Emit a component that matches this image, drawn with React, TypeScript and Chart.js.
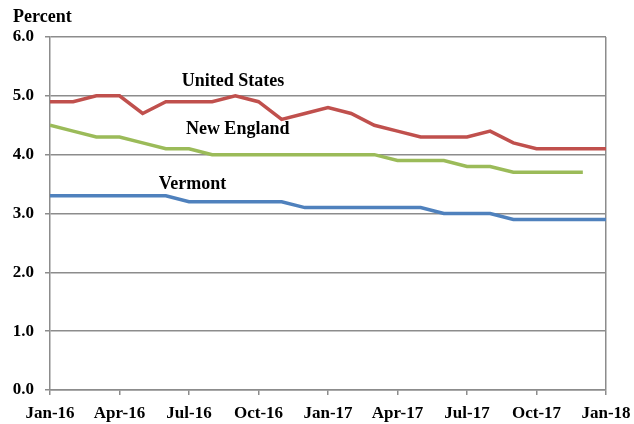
import React, { useEffect, useRef } from "react";
import { Chart, registerables } from "chart.js";

Chart.register(...registerables);

const months = [
  "Jan-16", "Feb-16", "Mar-16", "Apr-16", "May-16", "Jun-16", "Jul-16", "Aug-16", "Sep-16",
  "Oct-16", "Nov-16", "Dec-16", "Jan-17", "Feb-17", "Mar-17", "Apr-17", "May-17", "Jun-17",
  "Jul-17", "Aug-17", "Sep-17", "Oct-17", "Nov-17", "Dec-17", "Jan-18",
];
const tickLabels = ["Jan-16", "Apr-16", "Jul-16", "Oct-16", "Jan-17", "Apr-17", "Jul-17", "Oct-17", "Jan-18"];
const unitedStates = [4.9, 4.9, 5.0, 5.0, 4.7, 4.9, 4.9, 4.9, 5.0, 4.9, 4.6, 4.7, 4.8, 4.7, 4.5, 4.4, 4.3, 4.3, 4.3, 4.4, 4.2, 4.1, 4.1, 4.1, 4.1];
const newEngland = [4.5, 4.4, 4.3, 4.3, 4.2, 4.1, 4.1, 4.0, 4.0, 4.0, 4.0, 4.0, 4.0, 4.0, 4.0, 3.9, 3.9, 3.9, 3.8, 3.8, 3.7, 3.7, 3.7, 3.7, null];
const vermont = [3.3, 3.3, 3.3, 3.3, 3.3, 3.3, 3.2, 3.2, 3.2, 3.2, 3.2, 3.1, 3.1, 3.1, 3.1, 3.1, 3.1, 3.0, 3.0, 3.0, 2.9, 2.9, 2.9, 2.9, 2.9];
const seriesNames = ["United States", "New England", "Vermont"];

const FONT = "'Liberation Serif', 'Times New Roman', serif";
const GRID = "#8c8c8c";

const toPoints = (arr: (number | null)[]) => arr.map((v, i) => ({ x: i, y: v }));

const labelPlugin = {
  id: "seriesLabels",
  afterDatasetsDraw(chart: any) {
    const { ctx, scales } = chart;
    const anchors = [
      { x: 7.9, y: 5.24 },
      { x: 8.1, y: 4.43 },
      { x: 6.15, y: 3.49 },
    ];
    ctx.save();
    ctx.font = `bold 18px ${FONT}`;
    ctx.fillStyle = "#000";
    ctx.textAlign = "center";
    ctx.textBaseline = "middle";
    seriesNames.forEach((name, i) => {
      ctx.fillText(name, scales.x.getPixelForValue(anchors[i].x), scales.y.getPixelForValue(anchors[i].y));
    });
    ctx.textAlign = "left";
    ctx.fillText("Percent", 13, 17);
    ctx.restore();
  },
};

export default function App() {
  const ref = useRef<HTMLCanvasElement | null>(null);
  useEffect(() => {
    if (!ref.current) return;
    const chart = new Chart(ref.current, {
      type: "line",
      data: {
        labels: months,
        datasets: [
          { label: seriesNames[0], data: toPoints(unitedStates), borderColor: "#C0504D", borderWidth: 3.5, pointRadius: 0, tension: 0 },
          { label: seriesNames[1], data: toPoints(newEngland), borderColor: "#9BBB59", borderWidth: 3.5, pointRadius: 0, tension: 0 },
          { label: seriesNames[2], data: toPoints(vermont), borderColor: "#4F81BD", borderWidth: 3.5, pointRadius: 0, tension: 0 },
        ],
      },
      options: {
        animation: false,
        responsive: false,
        maintainAspectRatio: false,
        layout: { padding: { top: 37, right: 28, left: 0, bottom: 0 } },
        plugins: { legend: { display: false }, tooltip: { enabled: false }, title: { display: false } },
        scales: {
          x: {
            type: "linear",
            min: 0,
            max: 24,
            afterFit: (s: any) => { s.height = 34; s.paddingLeft = 0; s.paddingRight = 0; },
            afterBuildTicks: (s: any) => {
              s.ticks = tickLabels.map((_, i) => ({ value: i * 3 }));
            },
            ticks: {
              callback: (v: any) => tickLabels[Math.round(Number(v) / 3)],
              font: { family: FONT, size: 17, weight: "bold" },
              color: "#000",
              padding: 8,
              maxRotation: 0,
              autoSkip: false,
            },
            grid: {
              drawOnChartArea: true,
              color: (c: any) => (c.tick && c.tick.value === 24 ? GRID : "rgba(0,0,0,0)"),
              tickColor: GRID,
              tickLength: 5,
              lineWidth: 1.5,
            },
            border: { display: true, color: GRID, width: 1.5 },
          },
          y: {
            min: 0,
            max: 6,
            afterFit: (s: any) => { s.width = 50; s.paddingTop = 0; s.paddingBottom = 0; },
            ticks: {
              stepSize: 1,
              callback: (v: any) => Number(v).toFixed(1),
              font: { family: FONT, size: 17, weight: "bold" },
              color: "#000",
              padding: 11,
            },
            grid: { color: GRID, tickColor: GRID, tickLength: 5, lineWidth: 1.5 },
            border: { display: true, color: GRID, width: 1.5 },
          },
        },
      },
      plugins: [labelPlugin],
    });
    return () => chart.destroy();
  }, []);
  return (
    <div style={{ position: "absolute", left: 0, top: 0, width: 634, height: 424, background: "#fff" }}>
      <canvas ref={ref} width={634} height={424} style={{ width: 634, height: 424 }} />
    </div>
  );
}
